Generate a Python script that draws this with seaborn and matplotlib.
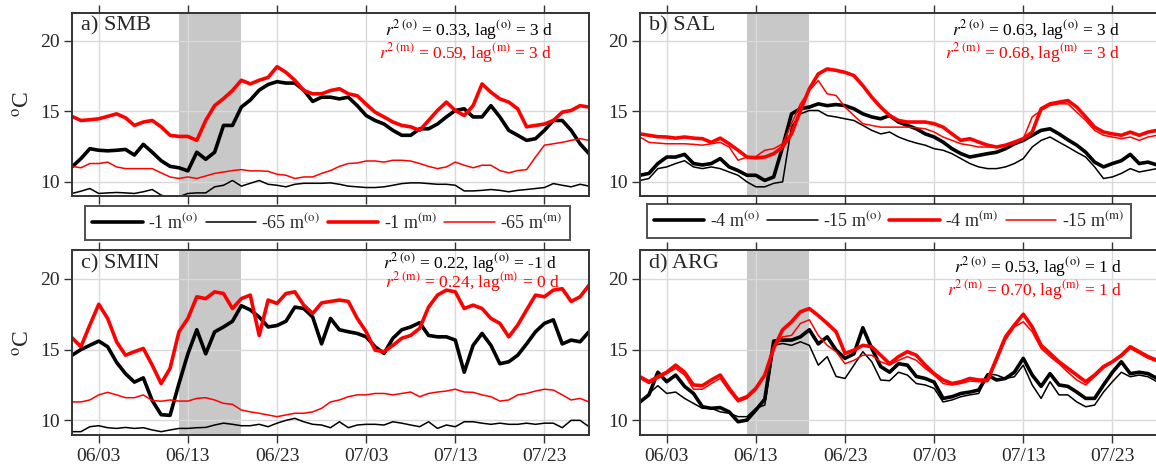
import numpy as np
import pandas as pd
import matplotlib
matplotlib.use("Agg")
import matplotlib.pyplot as plt
import matplotlib.dates as mdates
import seaborn as sns

# ---------------- data (daily, 05/31 .. 07/28) ----------------
dates = pd.date_range("2019-05-31", periods=59, freq="D")
event_start, event_end = "2019-06-12", "2019-06-19"
tick_dates = ["2019-06-03", "2019-06-13", "2019-06-23", "2019-07-03", "2019-07-13", "2019-07-23"]

smb_surf_obs = [11.06, 11.65, 12.35, 12.24, 12.2, 12.24, 12.3, 11.9, 12.66, 12.1, 11.5, 11.1, 11.0, 10.78, 12.1, 11.6, 12.1, 14.0, 14.0, 15.3,
                15.8, 16.5, 16.9, 17.1, 17.0, 17.0, 16.5, 15.7, 16.0, 16.0, 15.88, 16.0, 15.4, 14.7, 14.35, 14.1, 13.65, 13.3, 13.3, 13.76,
                13.76, 14.1, 14.6, 15.06, 15.18, 14.6, 14.6, 15.4, 14.6, 13.65, 13.3, 12.94, 13.06, 13.65, 14.35, 14.35, 13.65, 12.7, 12.0]
smb_deep_obs = [9.18, 9.34, 9.53, 9.18, 9.22, 9.25, 9.22, 9.18, 9.3, 9.46, 9.06, 8.9, 8.95, 9.18, 9.22, 9.22, 9.65, 9.76, 10.1, 9.7,
                9.9, 10.1, 9.83, 9.76, 9.65, 9.83, 9.9, 9.9, 9.9, 9.93, 9.83, 9.7, 9.65, 9.6, 9.6, 9.65, 9.76, 9.88, 9.93, 9.93,
                9.88, 9.83, 9.83, 9.76, 9.36, 9.36, 9.4, 9.46, 9.4, 9.3, 9.4, 9.46, 9.53, 9.6, 9.88, 9.76, 9.65, 9.83, 9.7]
smb_surf_mod = [14.64, 14.35, 14.4, 14.47, 14.64, 14.82, 14.54, 14.0, 14.24, 14.35, 13.9, 13.3, 13.22, 13.22, 12.94, 14.35, 15.4, 15.9, 16.47, 17.2,
                16.94, 17.2, 17.4, 18.16, 17.76, 17.2, 16.47, 16.24, 16.24, 16.47, 16.6, 16.24, 16.1, 15.5, 14.94, 14.6, 14.24, 14.0, 13.9, 13.65,
                14.35, 15.06, 15.65, 15.06, 14.7, 15.4, 16.94, 16.35, 15.88, 15.65, 15.18, 13.9, 14.0, 14.1, 14.35, 14.94, 15.06, 15.4, 15.3]
smb_deep_mod = [11.1, 11.0, 11.3, 11.3, 11.4, 11.06, 10.94, 10.94, 10.94, 10.94, 10.64, 10.35, 10.24, 10.35, 10.24, 10.42, 10.6, 10.7, 10.8, 10.87,
                10.78, 10.78, 10.75, 10.54, 10.47, 10.24, 10.35, 10.35, 10.6, 10.8, 11.1, 11.3, 11.34, 11.48, 11.48, 11.4, 11.53, 11.53, 11.48, 11.3,
                11.1, 10.94, 11.06, 11.4, 11.18, 11.0, 11.18, 11.18, 10.8, 10.64, 10.8, 10.87, 11.76, 12.6, 12.7, 12.8, 12.94, 13.06, 12.94]

sal_surf_obs = [10.47, 10.6, 11.3, 11.76, 11.76, 11.95, 11.3, 11.2, 11.3, 11.65, 11.06, 10.8, 10.47, 10.47, 10.1, 10.35, 12.47, 14.82, 15.18, 15.3,
                15.53, 15.4, 15.48, 15.4, 15.18, 14.82, 14.6, 14.47, 14.7, 14.24, 14.0, 13.76, 13.4, 13.18, 12.82, 12.35, 12.0, 11.76, 11.88, 12.0,
                12.1, 12.35, 12.7, 12.94, 13.3, 13.65, 13.76, 13.4, 12.98, 12.6, 12.1, 11.4, 11.06, 11.3, 11.5, 11.95, 11.3, 11.4, 11.2]
sal_deep_obs = [10.1, 10.24, 10.94, 11.06, 11.3, 11.5, 11.06, 10.94, 11.06, 10.94, 10.7, 10.47, 10.0, 9.65, 9.65, 9.9, 10.0, 13.9, 14.82, 15.06,
                15.06, 14.7, 14.6, 14.47, 14.35, 14.0, 13.65, 13.4, 13.53, 13.18, 12.94, 12.75, 12.6, 12.35, 12.24, 12.0, 11.65, 11.3, 11.06, 10.94,
                10.94, 11.06, 11.3, 11.65, 12.47, 12.94, 13.18, 12.82, 12.47, 12.1, 11.76, 11.06, 10.24, 10.35, 10.6, 10.94, 10.7, 10.82, 10.94]
sal_surf_mod = [13.4, 13.3, 13.2, 13.18, 13.1, 13.18, 13.1, 13.06, 12.8, 13.1, 12.7, 12.24, 11.76, 11.7, 11.76, 12.0, 12.47, 13.4, 15.06, 16.6,
                17.65, 18.0, 17.9, 17.76, 17.53, 16.82, 16.0, 15.3, 14.7, 14.35, 14.24, 14.24, 14.24, 14.12, 13.88, 13.4, 12.94, 13.06, 12.82, 12.6,
                12.47, 12.6, 12.82, 13.06, 13.53, 15.18, 15.53, 15.65, 15.76, 15.3, 14.6, 13.88, 13.53, 13.4, 13.3, 13.53, 13.3, 13.53, 13.65]
sal_deep_mod = [13.18, 12.8, 12.75, 12.7, 12.7, 12.7, 12.66, 12.6, 12.7, 12.8, 12.47, 11.53, 11.76, 11.8, 12.24, 12.35, 12.7, 14.12, 15.53, 16.47,
                17.18, 16.24, 16.12, 15.3, 14.7, 14.12, 14.0, 13.88, 13.88, 13.88, 13.88, 13.83, 13.76, 13.53, 13.18, 12.94, 12.7, 12.6, 12.47, 12.47,
                12.47, 12.6, 12.7, 13.06, 14.6, 15.06, 15.41, 15.53, 15.53, 14.94, 14.35, 13.65, 13.3, 13.18, 13.06, 13.18, 12.94, 13.18, 13.3]

smin_surf_obs = [14.6, 15.0, 15.3, 15.6, 15.2, 14.1, 13.3, 12.7, 13.0, 11.4, 10.4, 10.35, 12.6, 14.7, 16.4, 14.7, 16.25, 16.6, 17.0, 18.1,
                 17.8, 17.3, 16.6, 16.7, 17.0, 18.0, 17.9, 17.3, 15.4, 17.2, 16.4, 16.26, 16.14, 15.9, 15.2, 14.73, 15.8, 16.4, 16.6, 16.9,
                 16.0, 15.9, 15.9, 15.67, 13.4, 15.3, 16.14, 15.3, 14.0, 14.14, 14.6, 15.4, 16.26, 16.85, 17.1, 15.4, 15.67, 15.55, 16.26]
smin_deep_obs = [9.2, 9.2, 9.55, 9.62, 9.48, 9.43, 9.5, 9.43, 9.48, 9.32, 9.2, 9.32, 9.43, 9.43, 9.48, 9.5, 9.67, 9.8, 9.72, 9.62,
                 9.62, 9.72, 9.55, 9.8, 10.0, 10.14, 9.9, 9.72, 9.67, 9.48, 9.9, 9.48, 9.67, 9.72, 9.72, 9.67, 9.9, 9.8, 9.67, 9.55,
                 9.9, 9.43, 9.67, 9.55, 9.9, 9.9, 9.8, 9.72, 9.8, 9.72, 9.72, 9.8, 9.72, 9.8, 9.8, 9.48, 10.0, 10.0, 9.55]
smin_surf_mod = [15.84, 15.2, 16.73, 18.2, 17.2, 15.55, 14.6, 14.85, 15.08, 13.9, 12.6, 13.67, 16.26, 17.2, 18.73, 18.6, 19.08, 18.96, 17.9, 18.6,
                 18.85, 16.0, 18.5, 18.26, 18.96, 19.08, 18.14, 17.55, 18.3, 18.4, 18.5, 18.4, 17.2, 16.26, 14.96, 14.85, 15.3, 15.8, 16.0, 16.5,
                 18.0, 18.85, 19.2, 19.08, 17.9, 18.14, 17.9, 17.2, 16.85, 15.9, 16.73, 17.8, 18.85, 18.73, 19.2, 19.3, 18.4, 18.73, 19.55]
smin_deep_mod = [11.3, 11.3, 11.44, 11.8, 11.98, 11.8, 11.6, 11.6, 11.8, 11.4, 11.35, 11.44, 11.36, 11.36, 11.55, 11.6, 11.44, 11.2, 11.13, 10.73,
                 10.6, 10.5, 10.38, 10.26, 10.38, 10.5, 10.5, 10.6, 10.85, 11.3, 11.44, 11.67, 11.8, 11.8, 11.9, 11.9, 11.8, 11.9, 12.0, 11.67,
                 11.9, 12.0, 12.07, 12.2, 12.0, 11.98, 11.8, 11.67, 11.36, 11.44, 11.8, 11.9, 12.07, 12.2, 12.14, 11.8, 11.44, 11.55, 11.3]

arg_surf_obs = [11.3, 11.8, 13.4, 12.73, 13.2, 12.4, 11.9, 10.96, 10.85, 10.9, 10.6, 9.9, 10.02, 10.73, 11.5, 15.6, 15.67, 15.67, 15.9, 16.4,
                15.4, 15.9, 14.96, 14.38, 14.7, 16.54, 15.08, 13.8, 13.4, 14.0, 13.9, 13.1, 12.96, 12.7, 11.55, 11.67, 11.9, 12.0, 12.14, 13.2,
                12.85, 12.96, 13.4, 14.38, 13.2, 12.4, 13.3, 12.5, 12.4, 12.0, 11.55, 11.55, 12.5, 13.4, 14.14, 13.3, 13.4, 13.3, 12.96]
arg_deep_obs = [11.2, 11.9, 12.45, 11.9, 12.0, 11.55, 11.2, 10.85, 10.85, 10.6, 10.5, 10.26, 10.26, 10.85, 11.08, 15.3, 15.43, 15.3, 15.55, 15.3,
                13.9, 14.5, 13.1, 12.96, 13.9, 14.85, 14.14, 12.85, 12.8, 13.4, 13.2, 12.6, 12.5, 12.26, 11.3, 11.44, 11.67, 11.8, 11.9, 13.3,
                13.2, 12.96, 13.08, 13.9, 12.5, 11.55, 12.73, 11.8, 11.8, 11.3, 10.96, 11.08, 12.0, 12.73, 13.4, 13.08, 13.2, 13.08, 12.73]
arg_surf_mod = [13.08, 12.73, 13.08, 13.4, 13.9, 13.4, 12.5, 12.45, 12.85, 13.2, 12.26, 11.44, 11.67, 12.26, 13.2, 15.1, 16.4, 16.96, 17.67, 17.9,
                17.4, 16.85, 16.26, 14.73, 14.96, 15.3, 15.2, 14.6, 14.0, 14.5, 14.85, 14.6, 13.9, 13.3, 12.85, 12.6, 12.73, 12.96, 12.85, 12.85,
                14.38, 15.9, 16.73, 17.5, 16.6, 15.3, 14.73, 14.14, 13.67, 13.2, 12.73, 13.2, 13.8, 14.14, 14.6, 15.2, 14.85, 14.5, 14.24]
arg_deep_mod = [12.96, 12.6, 12.96, 13.3, 13.67, 13.2, 12.2, 12.2, 12.6, 12.96, 12.07, 11.3, 11.55, 12.14, 13.2, 15.2, 15.9, 16.0, 16.85, 17.1,
                16.0, 15.3, 14.85, 14.0, 14.24, 14.6, 14.6, 14.14, 13.9, 14.24, 14.5, 14.24, 13.67, 13.2, 12.6, 12.5, 12.6, 12.78, 12.73, 12.73,
                14.14, 15.67, 16.6, 16.96, 16.26, 15.08, 14.5, 14.0, 13.4, 12.85, 12.5, 13.08, 13.67, 14.14, 14.5, 15.08, 14.73, 14.38, 14.14]

panel_titles = ["a) SMB", "b) SAL", "c) SMIN", "d) ARG"]
r2_obs = ["0.33", "0.63", "0.22", "0.53"]
lag_obs = ["3", "3", "-1", "1"]
r2_mod = ["0.59", "0.68", "0.24", "0.70"]
lag_mod = ["3", "3", "0", "1"]
depths_ab = [["-1", "-65"], ["-4", "-15"]]

series = [
    (smb_surf_obs, smb_deep_obs, smb_surf_mod, smb_deep_mod),
    (sal_surf_obs, sal_deep_obs, sal_surf_mod, sal_deep_mod),
    (smin_surf_obs, smin_deep_obs, smin_surf_mod, smin_deep_mod),
    (arg_surf_obs, arg_deep_obs, arg_surf_mod, arg_deep_mod),
]

# ---------------- style ----------------
sns.set_theme(style="white")
plt.rcParams["font.family"] = ["Liberation Serif", "DejaVu Serif"]
plt.rcParams["mathtext.fontset"] = "stix"

W, H = 1156, 472
fig = plt.figure(figsize=(W / 100, H / 100), dpi=100)

def fx(px): return px / W
def fy(py): return 1 - py / H

pos = [
    (72, 589, 12.5, 196),
    (640, 1157, 12.5, 196),
    (72, 589, 250.5, 434.5),
    (640, 1157, 250.5, 434.5),
]

styles = [("black", 2.6), ("black", 1.1), ("red", 2.6), ("red", 1.1)]
annot_y = [(0.905, 0.778), (0.905, 0.778), (0.93, 0.83), (0.912, 0.785)]
annot_x = [0.93, 0.928, 0.938, 0.932]
legend_centers = [((85 + 570) / 2, 223), ((647 + 1131) / 2, 221)]

axes = []
for i, (l, r, t, b) in enumerate(pos):
    ax = fig.add_axes([fx(l), fy(b), fx(r - l), (b - t) / H])
    axes.append(ax)
    ax.axvspan(pd.Timestamp(event_start), pd.Timestamp(event_end), color="#c8c8c8", zorder=0.3, lw=0)
    d = depths_ab[i % 2]
    labels = [f"{d[0]} m$^{{\\mathrm{{(o)}}}}$", f"{d[1]} m$^{{\\mathrm{{(o)}}}}$",
              f"{d[0]} m$^{{\\mathrm{{(m)}}}}$", f"{d[1]} m$^{{\\mathrm{{(m)}}}}$"]
    for vals, (c, lw), lab in zip(series[i], styles, labels):
        df = pd.DataFrame({"date": dates, "T": vals})
        sns.lineplot(data=df, x="date", y="T", ax=ax, color=c, lw=lw, label=lab, legend=False)
    ax.set_xlim(pd.Timestamp("2019-05-31"), pd.Timestamp("2019-07-28"))
    ax.set_ylim(9, 22)
    ax.set_yticks([10, 15, 20])
    ax.set_xticks(pd.to_datetime(tick_dates))
    ax.xaxis.set_major_formatter(mdates.DateFormatter("%m/%d"))
    ax.set_xlabel("")
    ax.set_ylabel("")
    ax.set_axisbelow(True)
    ax.grid(True, color="#d9d9d9", lw=1.0)
    ax.tick_params(axis="x", which="both", direction="out", length=6, width=1.0, color="#333333",
                   top=True, bottom=True, labelsize=14, pad=4)
    ax.tick_params(axis="y", direction="out", length=6, width=1.0, color="#333333", left=True, labelsize=14, pad=3)
    if i < 2:
        ax.tick_params(axis="x", labelbottom=False)
    for sp in ax.spines.values():
        sp.set_color("#333333")
        sp.set_linewidth(1.4)
    ax.text(0.018, 0.925, panel_titles[i], transform=ax.transAxes, fontsize=16, va="center", ha="left")
    ax.text(annot_x[i], annot_y[i][0],
            f"$r^{{2\\ \\mathrm{{(o)}}}}$ = {r2_obs[i]}, lag$^{{\\mathrm{{(o)}}}}$ = {lag_obs[i]} d",
            transform=ax.transAxes, fontsize=12.5, ha="right", va="center", color="black")
    ax.text(annot_x[i] + (0.006 if i == 2 else 0.0), annot_y[i][1],
            f"$r^{{2\\ \\mathrm{{(m)}}}}$ = {r2_mod[i]}, lag$^{{\\mathrm{{(m)}}}}$ = {lag_mod[i]} d",
            transform=ax.transAxes, fontsize=12.5, ha="right", va="center", color="red")
    if i in (0, 2):
        ax.set_ylabel("$^{\\mathrm{o}}$C", fontsize=17, labelpad=4)
    if i < 2:
        h, lb = ax.get_legend_handles_labels()
        cx, cy = legend_centers[i]
        leg = fig.legend(h, lb, loc="center", bbox_to_anchor=(fx(cx), fy(cy)),
                         ncol=4, frameon=True, fancybox=False, edgecolor="#222222", fontsize=13,
                         handlelength=2.8, handletextpad=0.3, columnspacing=0.4, borderpad=0.4)
        leg.get_frame().set_linewidth(1.4)

fig.savefig("out.png", dpi=100)
